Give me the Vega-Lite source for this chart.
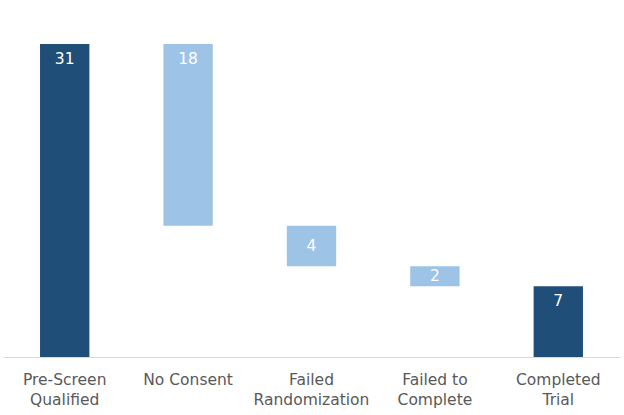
{
  "$schema": "https://vega.github.io/schema/vega-lite/v6.json",
  "width": 617,
  "height": 357,
  "autosize": "none",
  "padding": {"left": 3, "top": 0, "right": 4, "bottom": 58},
  "background": "white",
  "data": {
    "values": [
      {"stage": "Pre-Screen Qualified", "start": 0, "end": 31, "value": 31, "kind": "total"},
      {"stage": "No Consent", "start": 13, "end": 31, "value": 18, "kind": "drop"},
      {"stage": "Failed Randomization", "start": 9, "end": 13, "value": 4, "kind": "drop"},
      {"stage": "Failed to Complete", "start": 7, "end": 9, "value": 2, "kind": "drop"},
      {"stage": "Completed Trial", "start": 0, "end": 7, "value": 7, "kind": "total"}
    ]
  },
  "encoding": {
    "x": {
      "field": "stage",
      "type": "nominal",
      "sort": null,
      "scale": {"paddingInner": 0.6, "paddingOuter": 0.3},
      "axis": {
        "title": null,
        "labelAngle": 0,
        "ticks": false,
        "domainColor": "#d9d9d9",
        "domainWidth": 1,
        "labelPadding": 15,
        "labelFont": "DejaVu Sans",
        "labelFontSize": 15.5,
        "labelColor": "#595959",
        "labelLineHeight": 20,
        "labelLimit": 200,
        "labelExpr": "datum.value == 'Failed to Complete' ? ['Failed to', 'Complete'] : datum.value == 'No Consent' ? 'No Consent' : split(datum.value, ' ')"
      }
    }
  },
  "layer": [
    {
      "mark": {"type": "bar"},
      "encoding": {
        "y": {"field": "end", "type": "quantitative", "scale": {"domain": [0, 35.36], "nice": false}, "axis": null},
        "y2": {"field": "start"},
        "color": {
          "field": "kind",
          "type": "nominal",
          "scale": {"domain": ["total", "drop"], "range": ["#1f4e79", "#9dc3e6"]},
          "legend": null
        }
      }
    },
    {
      "transform": [{"filter": "datum.value >= 5"}],
      "mark": {"type": "text", "color": "white", "font": "DejaVu Sans", "fontSize": 15.5, "baseline": "middle", "dy": 15},
      "encoding": {
        "y": {"field": "end", "type": "quantitative"},
        "text": {"field": "value", "type": "quantitative"}
      }
    },
    {
      "transform": [
        {"filter": "datum.value < 5"},
        {"calculate": "(datum.start + datum.end) / 2", "as": "mid"}
      ],
      "mark": {"type": "text", "color": "white", "font": "DejaVu Sans", "fontSize": 15.5, "baseline": "middle"},
      "encoding": {
        "y": {"field": "mid", "type": "quantitative"},
        "text": {"field": "value", "type": "quantitative"}
      }
    }
  ],
  "config": {"view": {"stroke": null}}
}
